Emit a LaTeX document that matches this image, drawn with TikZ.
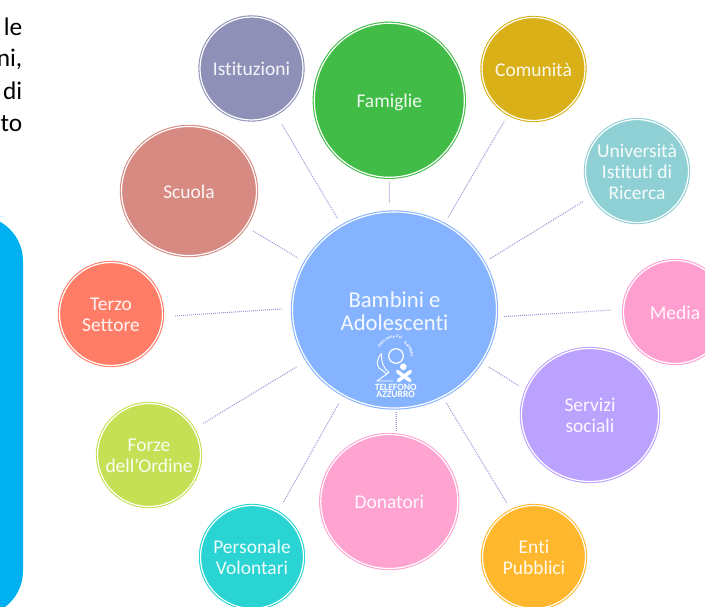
\documentclass[tikz,border=0pt]{standalone}
\usepackage{fontspec}
\setmainfont{Carlito}[RawFeature={-liga;-clig;-dlig}]
\usetikzlibrary{shapes.geometric,decorations.text}
\definecolor{cIst}{HTML}{8E90B8}
\definecolor{cFam}{HTML}{41BC46}
\definecolor{cCom}{HTML}{D9B017}
\definecolor{cUni}{HTML}{8ED0D4}
\definecolor{cMed}{HTML}{FF9FD0}
\definecolor{cSer}{HTML}{BCA2FF}
\definecolor{cEnt}{HTML}{FFB82E}
\definecolor{cDon}{HTML}{FFA3D0}
\definecolor{cPer}{HTML}{29D4D2}
\definecolor{cFor}{HTML}{C6E055}
\definecolor{cTer}{HTML}{FF7C66}
\definecolor{cScu}{HTML}{D78A82}
\definecolor{cHub}{HTML}{85B3FF}
\definecolor{cBlue}{HTML}{00B0F0}
\definecolor{cLine}{HTML}{9A9AD8}
\newcommand{\lbl}[1]{\makebox[0pt]{\smash{\raisebox{-\dimexpr .25em+2.2pt\relax}{\begin{tabular}[c]{@{}c@{}}#1\end{tabular}}}}}
\tikzset{
  x=0.75pt,y=-0.75pt,
  bub/.style n args={3}{shape=ellipse,inner sep=0pt,outer sep=0pt,
    minimum width=#2*1.5pt,minimum height=#3*1.5pt,
    preaction={draw=#1,line width=2.5pt,fill=#1},
    fill=#1,draw=white,line width=0.9pt,text=white,text opacity=0.92,
    font=\fontsize{14.6}{15.75}\selectfont},
  conn/.style={draw=cLine,line width=0.8pt,dash pattern=on 0.7pt off 0.8pt},
  sidetxt/.style={anchor=east,inner sep=0pt,font=\fontsize{19}{22}\selectfont,text=black},
  logotxt/.style={inner sep=0pt,text=white,align=center,font=\fontsize{7.2}{5}\selectfont\bfseries},
  logoarc/.style={decorate,decoration={text along path,text align=center,text color=white,text={#1}}},
}
\begin{document}
\begin{tikzpicture}
\clip (0,0) rectangle (705,606);
\fill[white] (0,0) rectangle (705,606);
\fill[cBlue,rounded corners=33.75pt] (-40,216) rectangle (23,616);
\node[sidetxt] (t1) at (22.5,27) {le};
\node[sidetxt] (t2) at (22.5,59) {ni,};
\node[sidetxt] (t3) at (22.5,91) {di};
\node[sidetxt] (t4) at (22.5,123.5) {to};

\node[bub={cHub}{102}{98}] (hub) at (394.5,310) {\fontsize{17}{17.5}\selectfont\raisebox{-2.4pt}{\lbl{Bambini e\\Adolescenti}}};
\node[bub={cIst}{51.5}{51.5}] (ist) at (251.5,68.5) {\lbl{Istituzioni}};
\node[bub={cFam}{75}{77}] (fam) at (389.3,100.3) {\lbl{Famiglie}};
\node[bub={cCom}{51.5}{51.5}] (com) at (533.5,69) {\lbl{Comunità}};
\node[bub={cUni}{51.5}{51.5}] (uni) at (637,171) {\lbl{Università\\Istituti di\\Ricerca}};
\node[bub={cMed}{51.5}{51.5}] (med) at (675,312) {\lbl{Media}};
\node[bub={cSer}{68.5}{66.5}] (ser) at (590,415) {\lbl{Servizi\\sociali}};
\node[bub={cEnt}{51.5}{51.5}] (ent) at (534,557) {\lbl{Enti\\Pubblici}};
\node[bub={cDon}{68.5}{67}] (don) at (389.3,501.5) {\lbl{Donatori}};
\node[bub={cPer}{51.5}{51.5}] (per) at (252,557) {\lbl{Personale\\Volontari}};
\node[bub={cFor}{51.5}{51.5}] (for) at (149,455) {\lbl{Forze\\dell'Ordine}};
\node[bub={cTer}{51.5}{51.5}] (ter) at (111,314) {\lbl{Terzo\\Settore}};
\node[bub={cScu}{67.5}{64.5}] (scu) at (189,191) {\lbl{Scuola}};

\draw[conn,shorten <=9.2pt,shorten >=6.3pt] (ist.298.9) -- (hub.122.5);
\draw[conn,shorten <=3.3pt,shorten >=7pt] (fam.270) -- (hub.93);
\draw[conn,shorten <=6.5pt,shorten >=5.9pt] (com.241.7) -- (hub.60.8);
\draw[conn,shorten <=8.1pt,shorten >=5.5pt] (uni.209.9) -- (hub.28.1);
\draw[conn,shorten <=9.7pt,shorten >=5pt] (med.177.3) -- (hub.356.5);
\draw[conn,shorten <=6.9pt,shorten >=7pt] (ser.159.4) -- (hub.329.1);
\draw[conn,shorten <=6.8pt,shorten >=5.1pt] (ent.116.8) -- (hub.299.6);
\draw[conn,shorten <=2.9pt,shorten >=3pt] (don.84.2) -- (hub.271.1);
\draw[conn,shorten <=8.8pt,shorten >=6.8pt] (per.60.9) -- (hub.239.1);
\draw[conn,shorten <=8.5pt,shorten >=9pt] (for.30.7) -- (hub.210.1);
\draw[conn,shorten <=9.5pt,shorten >=8.1pt] (ter.357.6) -- (hub.179.6);
\draw[conn,shorten <=6.7pt,shorten >=6.4pt] (scu.328) -- (hub.152.9);

% logo
\draw[white,line width=0.9pt] (396,356) circle[radius=7.3];
\fill[white] (403.3,366.7) circle[radius=3.3];
\draw[white,line width=2.6pt,line cap=round] (397.5,371.5) -- (410,380.5);
\draw[white,line width=2.6pt,line cap=round] (410.5,371.5) -- (398.5,380.5);
\draw[white,line width=0.7pt,line join=round]
  (381.5,353.5) .. controls (381,362) and (384,369) .. (389,372.5)
  -- (377,381) -- (393,381);
\draw[white,line width=0.7pt,line join=round]
  (381.5,353.5) .. controls (377,358) and (376,364) .. (379,368) -- (387,374);
\path[logoarc={|\fontsize{3.2}{3.5}\selectfont\bfseries|dalla parte dei}]
  (379.09,349.84) .. controls (382.70,339.90) and (394.03,335.22) .. (403.61,339.69);
\path[logoarc={|\fontsize{3}{3.5}\selectfont\bfseries|BAMBINI}]
  (403.25,343.44) .. controls (408.13,346.26) and (410.93,351.65) .. (410.44,357.26);
\node[logotxt] (lg) at (395.7,391) {TELEFONO\\AZZURRO};
\end{tikzpicture}
\end{document}
